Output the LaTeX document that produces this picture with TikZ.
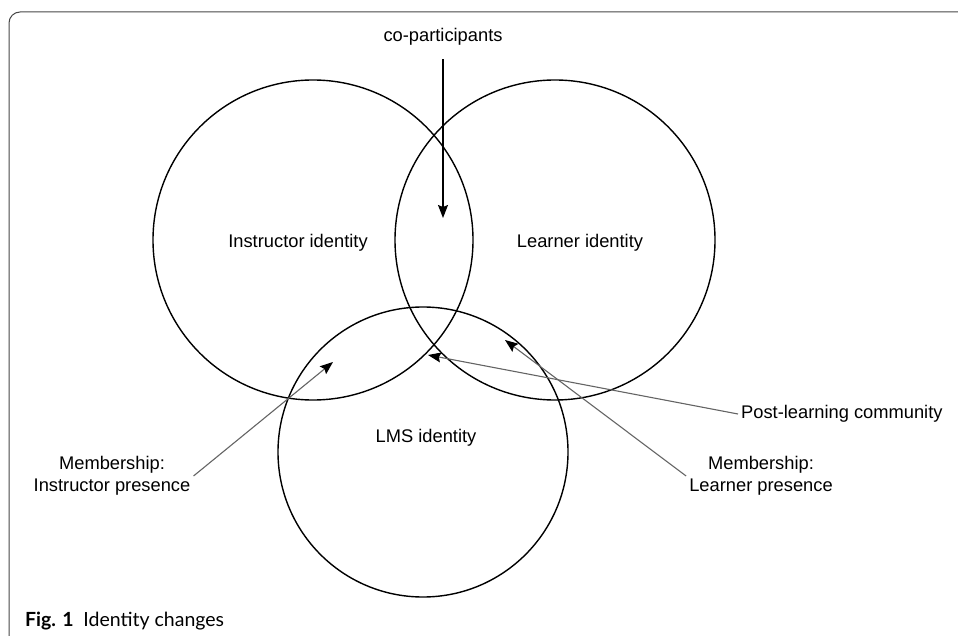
\documentclass[tikz,border=0pt]{standalone}
\usepackage{fontspec}
\setmainfont{Liberation Sans}
\newfontfamily\capfont{Lato}
\usepackage{xcolor}
\usepackage{tikz}
\usetikzlibrary{arrows.meta, positioning}
\definecolor{framegray}{RGB}{70,70,70}
\definecolor{pointergray}{RGB}{100,100,100}
\newcommand{\lbl}{\fontsize{18.3}{22}\selectfont}

\begin{document}
\begin{tikzpicture}[
  x=1pt, y=-1pt,
  font=\lbl,
  ring/.style={circle, draw=black, line width=1.4pt, inner sep=0pt},
  tag/.style={align=center, inner sep=3pt},
  pointer/.style={draw=pointergray, line width=1.1pt, -{Stealth[length=13pt, width=10pt, inset=2pt, black]}},
  downarrow/.style={draw=black, line width=1.2pt, -{Stealth[length=13pt, width=10pt, inset=2pt]}}
]
  \useasboundingbox (0,0) rectangle (958,636);
  % frame, open on the right and at the bottom
  \draw[framegray, line width=1pt, rounded corners=11pt] (9,636) -- (9,12) -- (958,12);

  \node[ring, minimum size=320pt] (instr) at (313,240) {};
  \node[ring, minimum size=320pt] (learn) at (555,240) {};
  \node[ring, minimum size=290pt] (lms) at (423,452) {};

  \node (instrlab) at (298,243) {Instructor identity};
  \node (learnlab) at (580,243) {Learner identity};
  \node (lmslab) at (426,438) {LMS identity};

  \node (co) at (443,37) {co-participants};
  \node[tag, anchor=west] (post) at (738,414) {Post-learning community};
  \node[tag] (lp) at (761,476) {Membership:\\Learner presence};
  \node[tag] (ip) at (112,476) {Membership:\\Instructor presence};

  \coordinate (cotip) at (443,218);
  \coordinate (posttip) at (428,355);
  \coordinate (lptip) at (505,340);
  \coordinate (iptip) at (333,362);

  \draw[downarrow, shorten <=10pt] (co.south) -- (cotip);
  \draw[pointer] (post.west) -- (posttip);
  \draw[pointer] (lp.west) -- (lptip);
  \draw[pointer] (ip.east) -- (iptip);

  \node[anchor=base west, inner sep=0pt, font=\capfont\fontsize{19.5}{22}\selectfont] (cap) at (25,626) {\textbf{Fig. 1}\hspace{0.5em}Identity changes};
\end{tikzpicture}
\end{document}
